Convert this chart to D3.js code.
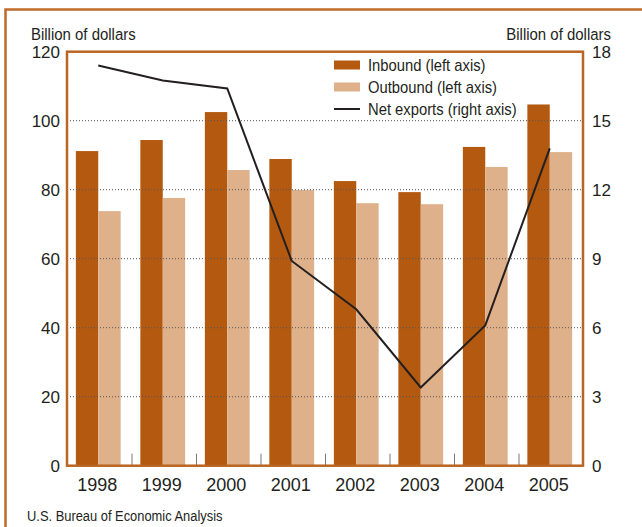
<!DOCTYPE html>
<html>
<head>
<meta charset="utf-8">
<script src="https://cdn.jsdelivr.net/npm/d3@7"></script>
<style>
  body { margin: 0; background: #fff; }
  #container { width: 642px; height: 527px; }
  text { fill: #231f20; font-family: "Liberation Sans", Arial, sans-serif; }
</style>
</head>
<body>
<div id="container"></div>
<script>
const width = 642, height = 527;

// data
const years = ["1998", "1999", "2000", "2001", "2002", "2003", "2004", "2005"];
const inbound = [91.2, 94.4, 102.5, 88.9, 82.5, 79.3, 92.4, 104.7];
const outbound = [73.8, 77.6, 85.7, 79.9, 76.1, 75.8, 86.6, 90.9];
const netExports = [17.4, 16.75, 16.4, 8.9, 6.8, 3.4, 6.1, 13.8];
const leftTicks = [0, 20, 40, 60, 80, 100, 120];
const rightTicks = [0, 3, 6, 9, 12, 15, 18];
const seriesNames = ["Inbound (left axis)", "Outbound (left axis)", "Net exports (right axis)"];

const orange = "#b35a10";
const peach = "#dfb18b";
const frameColor = "#bb6522";

const svg = d3.create("svg")
    .attr("width", width)
    .attr("height", height)
    .attr("viewBox", `0 0 ${width} ${height}`);

// condensed-looking text: squeeze horizontally
function narrowText(sel, x, y, size, sx, anchor) {
    return sel.append("text")
        .attr("transform", `translate(${x},${y}) scale(${sx},1)`)
        .attr("font-size", size)
        .attr("text-anchor", anchor || "start");
}

// outer frame (right/bottom run off the page)
svg.append("path")
    .attr("d", `M5.5,${height + 5} V9.5 H${width + 5}`)
    .attr("fill", "none")
    .attr("stroke", "#c06a2a")
    .attr("stroke-width", 2.5);

const plot = { left: 67, right: 583, top: 51.7, bottom: 465.7 };

const x0 = d3.scaleBand().domain(years).range([plot.left, plot.right]);
const x1 = d3.scaleBand().domain(["in", "out"]).range([0, x0.bandwidth()])
    .paddingInner(0).paddingOuter(0.44);
const yL = d3.scaleLinear().domain([0, 120]).range([plot.bottom, plot.top]);
const yR = d3.scaleLinear().domain([0, 18]).range([plot.bottom, plot.top]);

// bars
const groups = svg.append("g").selectAll("g")
    .data(years)
    .join("g")
    .attr("transform", d => `translate(${x0(d)},0)`);

groups.append("rect")
    .attr("x", x1("in") - 1)
    .attr("width", x1.bandwidth())
    .attr("y", (d, i) => yL(inbound[i]))
    .attr("height", (d, i) => yL(0) - yL(inbound[i]))
    .attr("fill", orange);

groups.append("rect")
    .attr("x", x1("out") - 1)
    .attr("width", x1.bandwidth())
    .attr("y", (d, i) => yL(outbound[i]))
    .attr("height", (d, i) => yL(0) - yL(outbound[i]))
    .attr("fill", peach);

// dotted gridlines over the bars
svg.append("g").selectAll("line")
    .data(leftTicks.filter(d => d > 0 && d < 120))
    .join("line")
    .attr("x1", plot.left)
    .attr("x2", plot.right)
    .attr("y1", d => yL(d))
    .attr("y2", d => yL(d))
    .attr("stroke", "#555")
    .attr("stroke-width", 1)
    .attr("stroke-dasharray", "1,2");

// small ticks between year groups
svg.append("g").selectAll("line")
    .data(years.slice(1))
    .join("line")
    .attr("x1", d => x0(d) + 0.5)
    .attr("x2", d => x0(d) + 0.5)
    .attr("y1", plot.bottom - 12)
    .attr("y2", plot.bottom)
    .attr("stroke", "#777")
    .attr("stroke-width", 1);

// net exports line
const line = d3.line()
    .x((d, i) => x0(years[i]) + x0.bandwidth() / 2 - 1)
    .y(d => yR(d));

svg.append("path")
    .datum(netExports)
    .attr("d", line)
    .attr("fill", "none")
    .attr("stroke", "#231f20")
    .attr("stroke-width", 2);

// plot frame
svg.append("rect")
    .attr("x", plot.left)
    .attr("y", plot.top)
    .attr("width", plot.right - plot.left)
    .attr("height", plot.bottom - plot.top)
    .attr("fill", "none")
    .attr("stroke", frameColor)
    .attr("stroke-width", 2.5);

// axis labels
svg.append("g").selectAll("text")
    .data(leftTicks)
    .join("text")
    .attr("x", 60)
    .attr("y", d => yL(d) + 6)
    .attr("text-anchor", "end")
    .attr("font-size", 17)
    .text(d => d);

svg.append("g").selectAll("text")
    .data(rightTicks)
    .join("text")
    .attr("x", 592)
    .attr("y", d => yR(d) + 6)
    .attr("font-size", 17)
    .text(d => d);

svg.append("g").selectAll("text")
    .data(years)
    .join("text")
    .attr("x", d => x0(d) + x0.bandwidth() / 2 - 2)
    .attr("y", 491)
    .attr("text-anchor", "middle")
    .attr("font-size", 18)
    .text(d => d);

narrowText(svg, 31, 40, 17, 0.88).text("Billion of dollars");
narrowText(svg, 611, 40, 17, 0.88, "end").text("Billion of dollars");

// legend
const legendY = [65, 87, 109];
const legend = svg.append("g").attr("transform", "translate(334,0)");
legend.append("rect").attr("x", 0).attr("y", legendY[0] - 4.5).attr("width", 26).attr("height", 9).attr("fill", orange);
legend.append("rect").attr("x", 0).attr("y", legendY[1] - 4.5).attr("width", 26).attr("height", 9).attr("fill", peach);
legend.append("line").attr("x1", 0).attr("x2", 26).attr("y1", legendY[2]).attr("y2", legendY[2])
    .attr("stroke", "#231f20").attr("stroke-width", 2);
seriesNames.forEach((name, i) => {
    narrowText(legend, 34, legendY[i] + 6, 17, 0.87).text(name);
});

narrowText(svg, 27, 521, 15, 0.86).text("U.S. Bureau of Economic Analysis");

document.getElementById("container").append(svg.node());
</script>
</body>
</html>
